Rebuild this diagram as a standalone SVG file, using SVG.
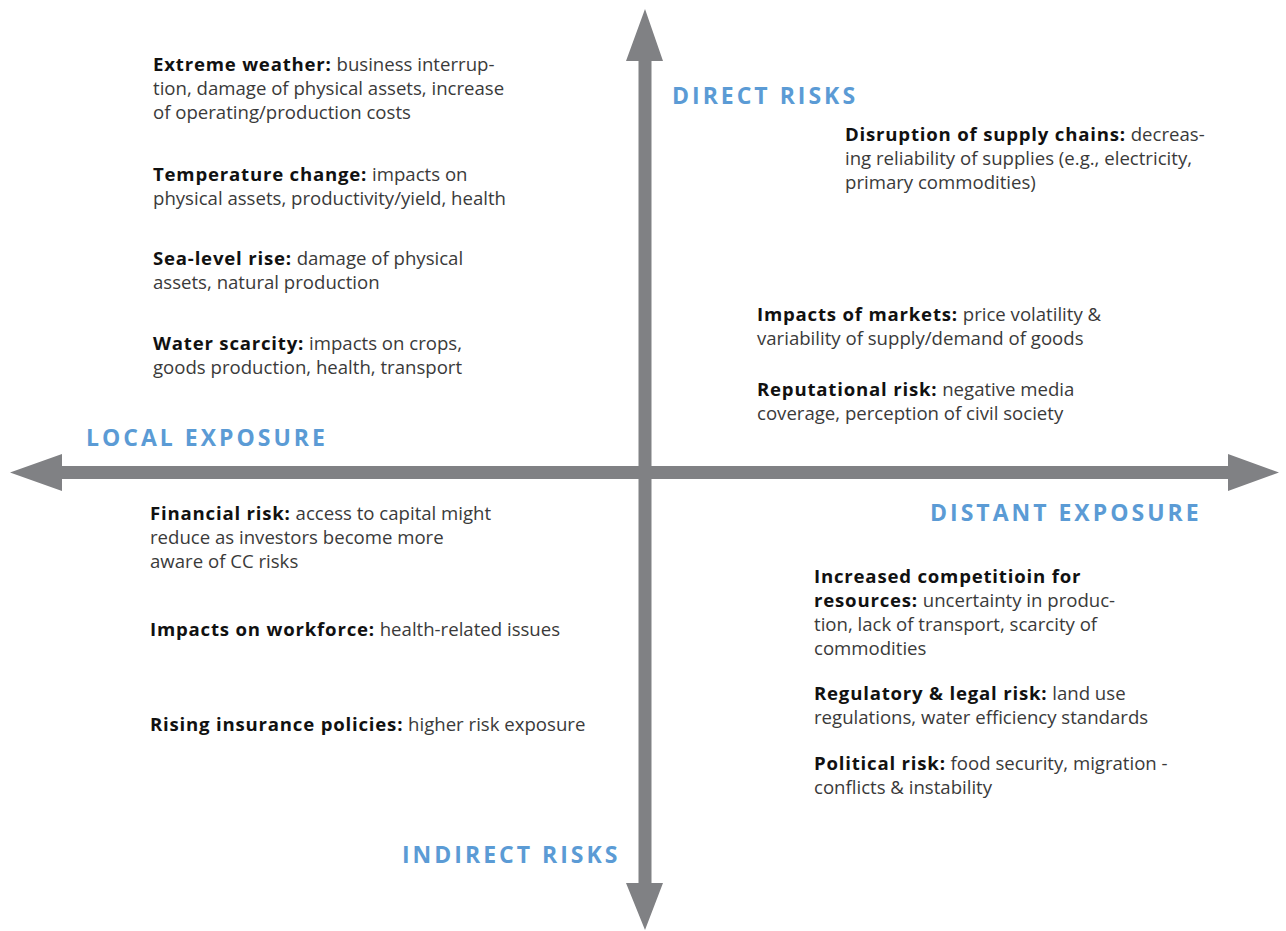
<svg xmlns="http://www.w3.org/2000/svg" width="1286" height="931" viewBox="0 0 1286 931">
<style>
.t{font-family:"Open Sans",Lato,"Liberation Sans",sans-serif;font-size:18.6px;fill:#3a3a3a}
.b{font-weight:bold;fill:#111111;letter-spacing:0.8px}
.h{font-family:"Open Sans",Lato,"Liberation Sans",sans-serif;font-size:23px;font-weight:bold;fill:#5b9bd5;letter-spacing:3px}
.ax{fill:#808184}
</style>
<rect width="1286" height="931" fill="#ffffff"/>
<g id="axes">
<polygon id="vertical-axis" class="ax" points="645,9 663,61 651.5,61 651.5,883 663,883 645,930 626,883 638.5,883 638.5,61 626,61"/>
<polygon id="horizontal-axis" class="ax" points="10,472.5 62,454 62,466 1228,466 1228,454 1279,472.5 1228,491 1228,479 62,479 62,491"/>
</g>
<g id="heading-direct"><text class="h" x="672" y="104">DIRECT RISKS</text></g>
<g id="heading-local"><text class="h" x="86" y="446">LOCAL EXPOSURE</text></g>
<g id="heading-distant"><text class="h" x="930" y="521">DISTANT EXPOSURE</text></g>
<g id="heading-indirect"><text class="h" x="402" y="863">INDIRECT RISKS</text></g>
<g id="extreme-weather">
<text class="t" x="153" y="71"><tspan class="b">Extreme weather:</tspan> business interrup-</text>
<text class="t" x="153" y="95">tion, damage of physical assets, increase</text>
<text class="t" x="153" y="119">of operating/production costs</text>
</g>
<g id="temperature-change">
<text class="t" x="153" y="181"><tspan class="b">Temperature change:</tspan> impacts on</text>
<text class="t" x="153" y="205">physical assets, productivity/yield, health</text>
</g>
<g id="sea-level-rise">
<text class="t" x="153" y="265"><tspan class="b">Sea-level rise:</tspan> damage of physical</text>
<text class="t" x="153" y="289">assets, natural production</text>
</g>
<g id="water-scarcity">
<text class="t" x="153" y="350"><tspan class="b">Water scarcity:</tspan> impacts on crops,</text>
<text class="t" x="153" y="374">goods production, health, transport</text>
</g>
<g id="supply-chains">
<text class="t" x="845" y="141"><tspan class="b">Disruption of supply chains:</tspan> decreas-</text>
<text class="t" x="845" y="165">ing reliability of supplies (e.g., electricity,</text>
<text class="t" x="845" y="189">primary commodities)</text>
</g>
<g id="markets">
<text class="t" x="757" y="321"><tspan class="b">Impacts of markets:</tspan> price volatility &amp;</text>
<text class="t" x="757" y="345">variability of supply/demand of goods</text>
</g>
<g id="reputational">
<text class="t" x="757" y="396"><tspan class="b">Reputational risk:</tspan> negative media</text>
<text class="t" x="757" y="420">coverage, perception of civil society</text>
</g>
<g id="financial">
<text class="t" x="150" y="520"><tspan class="b">Financial risk:</tspan> access to capital might</text>
<text class="t" x="150" y="544">reduce as investors become more</text>
<text class="t" x="150" y="568">aware of CC risks</text>
</g>
<g id="workforce">
<text class="t" x="150" y="636"><tspan class="b">Impacts on workforce:</tspan> health-related issues</text>
</g>
<g id="insurance">
<text class="t" x="150" y="731"><tspan class="b">Rising insurance policies:</tspan> higher risk exposure</text>
</g>
<g id="competition">
<text class="t" x="814" y="583"><tspan class="b">Increased competitioin for</tspan></text>
<text class="t" x="814" y="607"><tspan class="b">resources:</tspan> uncertainty in produc-</text>
<text class="t" x="814" y="631">tion, lack of transport, scarcity of</text>
<text class="t" x="814" y="655">commodities</text>
</g>
<g id="regulatory">
<text class="t" x="814" y="700"><tspan class="b">Regulatory &amp; legal risk:</tspan> land use</text>
<text class="t" x="814" y="724">regulations, water efficiency standards</text>
</g>
<g id="political">
<text class="t" x="814" y="770"><tspan class="b">Political risk:</tspan> food security, migration -</text>
<text class="t" x="814" y="794">conflicts &amp; instability</text>
</g>
</svg>
